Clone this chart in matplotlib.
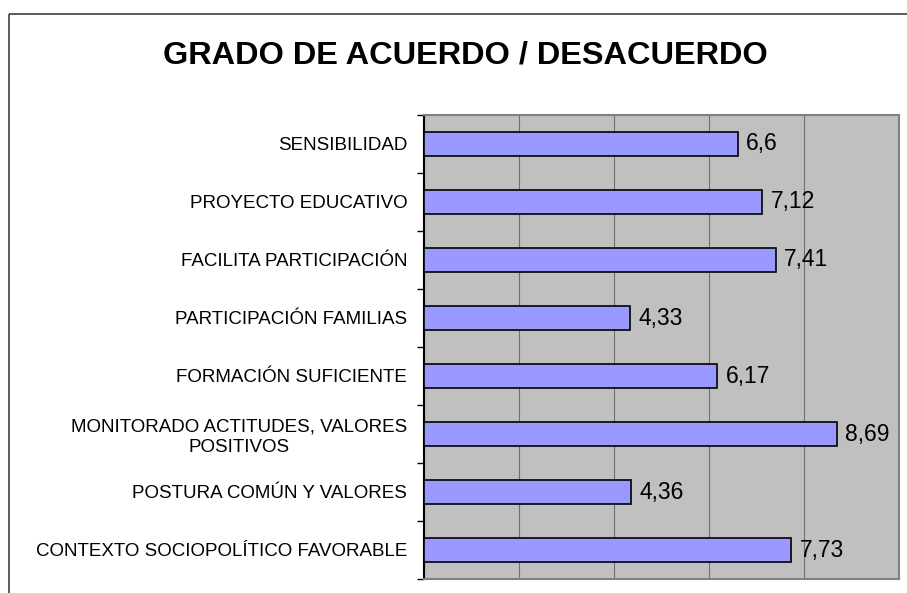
import numpy as np
import matplotlib
matplotlib.use("Agg")
import matplotlib.pyplot as plt
from matplotlib.lines import Line2D

plt.rcParams['font.family'] = ['Liberation Sans', 'DejaVu Sans']

# categories from top to bottom
categorias = [
    "SENSIBILIDAD",
    "PROYECTO EDUCATIVO",
    "FACILITA PARTICIPACIÓN",
    "PARTICIPACIÓN FAMILIAS",
    "FORMACIÓN SUFICIENTE",
    "MONITORADO ACTITUDES, VALORES\nPOSITIVOS",
    "POSTURA COMÚN Y VALORES",
    "CONTEXTO SOCIOPOLÍTICO FAVORABLE",
]
valores = [6.6, 7.12, 7.41, 4.33, 6.17, 8.69, 4.36, 7.73]
etiquetas = ["6,6", "7,12", "7,41", "4,33", "6,17", "8,69", "4,36", "7,73"]

W, H = 907, 593
fig = plt.figure(figsize=(W / 100, H / 100), dpi=100)
ax = fig.add_axes([424 / W, 1 - 579 / H, (899 - 424) / W, (579 - 115) / H])

y = np.arange(len(categorias))
ax.barh(y, valores, height=0.41, color="#9999FF", edgecolor="black",
        linewidth=1.2, zorder=3)

for yi, v, t in zip(y, valores, etiquetas):
    ax.annotate(t, xy=(v, yi), xytext=(6, 0), textcoords="offset points",
                va="center", ha="left", fontsize=16.5, zorder=4)

ax.set_xlim(0, 10)
ax.set_ylim(len(categorias) - 0.5, -0.5)
ax.set_facecolor("#C0C0C0")

ax.set_xticks(np.arange(0, 11, 2))
ax.xaxis.grid(True, color="#707070", linewidth=0.8, zorder=1)
ax.tick_params(axis="x", length=0, labelbottom=False)

ax.set_yticks(y)
ax.set_yticklabels(categorias, fontsize=13.5, multialignment="center",
                   linespacing=1.2)
ax.set_yticks(np.arange(-0.5, len(categorias)), minor=True)
ax.tick_params(axis="y", which="major", length=0, pad=12)
ax.tick_params(axis="y", which="minor", length=5, width=1, color="black")

for s in ["top", "right", "bottom"]:
    ax.spines[s].set_color("#808080")
    ax.spines[s].set_linewidth(1.5)
ax.spines["left"].set_color("black")
ax.spines["left"].set_linewidth(1.5)

fig.text(465 / W, 1 - 55 / H, "GRADO DE ACUERDO / DESACUERDO",
         ha="center", va="center", fontsize=23.4, fontweight="bold")

# chart frame: top and left edges only, the rest runs off the figure
fx, fy = 8.5 / W, 1 - 13.5 / H
fig.add_artist(Line2D([fx, 1.05], [fy, fy], transform=fig.transFigure,
                      color="#404040", linewidth=1.2, solid_capstyle="butt"))
fig.add_artist(Line2D([fx, fx], [fy, -0.05], transform=fig.transFigure,
                      color="#404040", linewidth=1.2, solid_capstyle="butt"))

fig.savefig("out.png", dpi=100)
